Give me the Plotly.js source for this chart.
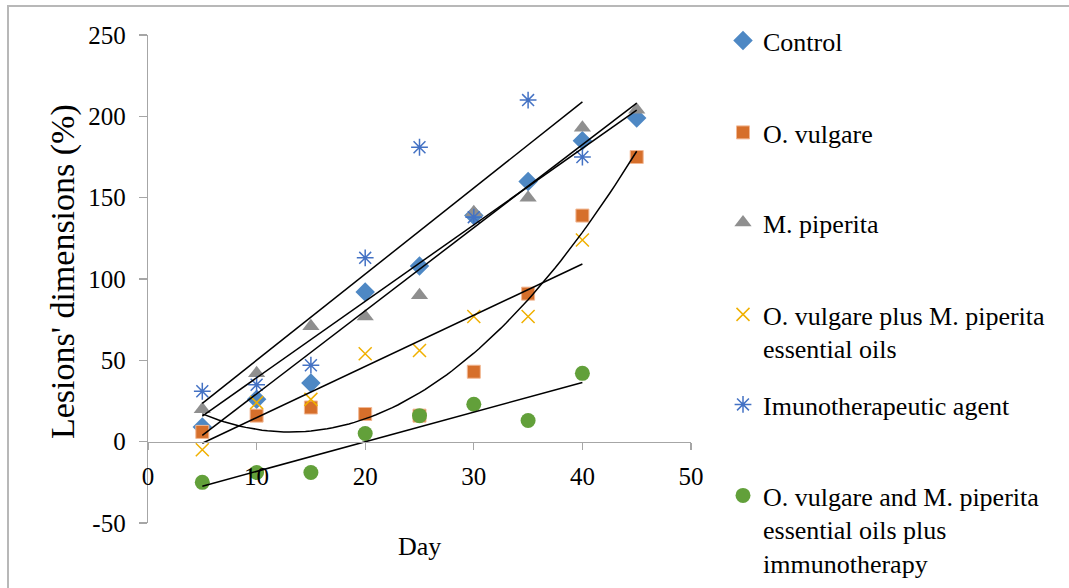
<!DOCTYPE html>
<html>
<head>
<meta charset="utf-8">
<script src="https://cdn.plot.ly/plotly-3.0.1.min.js"></script>
<style>
  html, body { margin: 0; padding: 0; background: #fff; overflow: hidden; }
  #wrap { position: relative; width: 1069px; height: 588px; overflow: hidden; }
  #chart { width: 1069px; height: 588px; }
  #frame { position: absolute; left: 7px; top: 5px; width: 1100px; height: 620px;
           border: 2px solid #b8b8b8; pointer-events: none; box-sizing: border-box; }
</style>
</head>
<body>
<div id="wrap"><div id="chart"></div><div id="frame"></div></div>
<script>
// ---- data ----
const days      = [5, 10, 15, 20, 25, 30, 35, 40, 45];
const daysShort = [5, 10, 15, 20, 25, 30, 35, 40];

const control      = [9, 26, 36, 92, 108, 139, 160, 185, 199];
const oVulgare     = [6, 16, 21, 17, 16, 43, 91, 139, 175];
const mPiperita    = [20, 42, 71, 77, 90, 141, 150, 193, 204];
const comboOils    = [-5, 24, 26, 54, 56, 77, 77, 124];
const immuno       = [31, 35, 47, 113, 181, 138, 210, 175];
const comboImmuno  = [-25, -19, -19, 5, 16, 23, 13, 42];

const seriesNames = [
  "Control",
  "O. vulgare",
  "M. piperita",
  "O. vulgare plus M. piperita<br>essential oils",
  "Imunotherapeutic agent",
  "O. vulgare and M. piperita<br>essential oils plus<br>immunotherapy"
];
const xTickVals = [0, 10, 20, 30, 40, 50];
const yTickVals = [-50, 0, 50, 100, 150, 200, 250];

// ---- least-squares helpers (trendlines computed from the data) ----
function linFit(x, y) {
  const n = x.length;
  const mx = x.reduce((a, b) => a + b, 0) / n;
  const my = y.reduce((a, b) => a + b, 0) / n;
  let sxy = 0, sxx = 0;
  for (let i = 0; i < n; i++) { sxy += (x[i] - mx) * (y[i] - my); sxx += (x[i] - mx) ** 2; }
  const b = sxy / sxx, a = my - b * mx;
  return t => a + b * t;
}
function quadFit(x, y) {
  let S = [0, 0, 0, 0, 0], T = [0, 0, 0];
  for (let i = 0; i < x.length; i++) {
    for (let k = 0; k < 5; k++) S[k] += x[i] ** k;
    for (let k = 0; k < 3; k++) T[k] += y[i] * x[i] ** k;
  }
  const M = [[S[0], S[1], S[2], T[0]], [S[1], S[2], S[3], T[1]], [S[2], S[3], S[4], T[2]]];
  for (let c = 0; c < 3; c++) {
    for (let r = c + 1; r < 3; r++) {
      const f = M[r][c] / M[c][c];
      for (let k = c; k < 4; k++) M[r][k] -= f * M[c][k];
    }
  }
  const coef = [0, 0, 0];
  for (let r = 2; r >= 0; r--) {
    let s = M[r][3];
    for (let k = r + 1; k < 3; k++) s -= M[r][k] * coef[k];
    coef[r] = s / M[r][r];
  }
  return t => coef[0] + coef[1] * t + coef[2] * t * t;
}
function sampleLine(x, f) { return { x: [x[0], x[x.length - 1]], y: [f(x[0]), f(x[x.length - 1])] }; }
function sampleCurve(x, f) {
  const xs = [], ys = [];
  const x0 = x[0], x1 = x[x.length - 1];
  for (let i = 0; i <= 80; i++) { const t = x0 + (x1 - x0) * i / 80; xs.push(t); ys.push(f(t)); }
  return { x: xs, y: ys };
}

const font = "'Liberation Serif', 'Times New Roman', serif";

const markerTraces = [
  { x: days, y: control, name: seriesNames[0], legend: "legend",
    marker: { symbol: "diamond", size: 15, color: "#4e88c4" } },
  { x: days, y: oVulgare, name: seriesNames[1], legend: "legend2",
    marker: { symbol: "square", size: 13, color: "#d66f2b", line: { color: "#f2b894", width: 1 } } },
  { x: days, y: mPiperita, name: seriesNames[2], legend: "legend3",
    marker: { symbol: "triangle-up", size: 15, color: "#8f8f8f" } },
  { x: daysShort, y: comboOils, name: seriesNames[3], legend: "legend4",
    marker: { symbol: "x-thin-open", size: 13, color: "#f0b000", line: { color: "#f0b000", width: 1.5 } } },
  { x: daysShort, y: immuno, name: seriesNames[4], legend: "legend5",
    marker: { symbol: "asterisk-open", size: 14, color: "#4472c4", line: { color: "#4472c4", width: 1.5 } } },
  { x: daysShort, y: comboImmuno, name: seriesNames[5], legend: "legend6",
    marker: { symbol: "circle", size: 15, color: "#62a03a" } }
].map(t => Object.assign({ type: "scatter", mode: "markers", cliponaxis: false }, t));

const fits = [
  sampleLine(days, linFit(days, control)),
  sampleCurve(days, quadFit(days, oVulgare)),
  sampleLine(days, linFit(days, mPiperita)),
  sampleLine(daysShort, linFit(daysShort, comboOils)),
  sampleLine(daysShort, linFit(daysShort, immuno)),
  sampleLine(daysShort, linFit(daysShort, comboImmuno))
];
const lineTraces = fits.map(f => ({
  type: "scatter", mode: "lines", x: f.x, y: f.y, showlegend: false, hoverinfo: "skip",
  line: { color: "#000", width: 1.5 }
}));

function legendAt(ytop) {
  return {
    xref: "container", yref: "container",
    x: 723 / 1069, xanchor: "left",
    y: (588 - ytop) / 588, yanchor: "top",
    font: { family: font, size: 26, color: "#000" },
    bgcolor: "rgba(0,0,0,0)", borderwidth: 0, valign: "top", itemclick: false
  };
}

const layout = {
  width: 1069, height: 588,
  margin: { l: 148, r: 378, t: 35, b: 65 },
  paper_bgcolor: "#fff", plot_bgcolor: "#fff",
  font: { family: font, size: 25, color: "#000" },
  xaxis: {
    range: [0, 50], tickvals: xTickVals, ticktext: xTickVals.map(String),
    showgrid: false, zeroline: false, showline: true, linecolor: "#a6a6a6", linewidth: 1.3,
    ticks: "outside", ticklen: 7, tickcolor: "#a6a6a6", tickwidth: 1.3,
    anchor: "free", position: 50 / 300, ticklabelstandoff: 5,
    tickfont: { family: font, size: 25, color: "#000" }
  },
  yaxis: {
    range: [-50, 250], tickvals: yTickVals, ticktext: yTickVals.map(String),
    showgrid: false, zeroline: false, showline: true, linecolor: "#a6a6a6", linewidth: 1.3,
    ticks: "outside", ticklen: 8, tickcolor: "#a6a6a6", tickwidth: 1.3,
    ticklabelstandoff: 8,
    tickfont: { family: font, size: 25, color: "#000" }
  },
  legend: legendAt(17),
  legend2: legendAt(109),
  legend3: legendAt(199),
  legend4: legendAt(291),
  legend5: legendAt(381),
  legend6: legendAt(472),
  annotations: [
    { text: "Lesions' dimensions (%)", xref: "paper", yref: "paper",
      x: (63 - 148) / 543, y: (523 - 272) / 488, xanchor: "center", yanchor: "middle",
      textangle: -90, showarrow: false, font: { family: font, size: 34, color: "#000" } },
    { text: "Day", xref: "paper", yref: "paper",
      x: 0.5, y: (523 - 546) / 488, xanchor: "center", yanchor: "middle",
      showarrow: false, font: { family: font, size: 26, color: "#000" } }
  ],
  showlegend: true
};

Plotly.newPlot("chart", markerTraces.concat(lineTraces), layout, { displayModeBar: false, staticPlot: true });
</script>
</body>
</html>
